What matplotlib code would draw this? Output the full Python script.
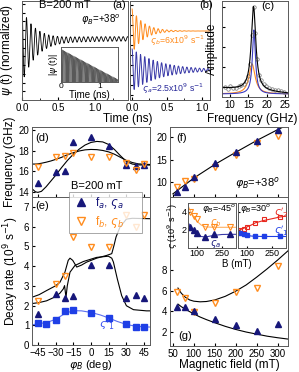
import numpy as np
import matplotlib.pyplot as plt
from matplotlib.lines import Line2D

plt.rcParams['font.family'] = ['Liberation Sans', 'DejaVu Sans']
plt.rcParams['mathtext.fontset'] = 'dejavusans'
plt.rcParams['font.size'] = 7
plt.rcParams['xtick.direction'] = 'in'
plt.rcParams['ytick.direction'] = 'in'
plt.rcParams['xtick.major.size'] = 2.5
plt.rcParams['ytick.major.size'] = 2.5
plt.rcParams['xtick.minor.size'] = 1.5
plt.rcParams['ytick.minor.size'] = 1.5
plt.rcParams['xtick.major.pad'] = 2
plt.rcParams['ytick.major.pad'] = 2
plt.rcParams['axes.linewidth'] = 0.7
plt.rcParams['axes.edgecolor'] = '0.35'

navy = '#17177a'
orange = '#ff8c1e'
blue = '#1f3fe6'
red = '#e8281e'

# ---- (a),(b),(c): oscillation parameters
f_a, f_b = 16.5, 16.0          # GHz
rate_a, rate_b = 2.5, 6.0      # 1e9 1/s
amp_fast, amp_slow, amp_tail = 0.85, 0.15, 0.06

# (c) spectrum sample points (GHz, amplitude)
spec_f = [8.5, 9.3, 10.0, 10.8, 11.5, 12.3, 13.0, 13.7, 14.3, 14.9, 15.4, 15.9,
          16.4, 16.9, 17.4, 17.9, 18.5, 19.2, 19.9, 20.7, 21.5, 22.3, 23.1, 24.0, 24.8]
spec_y = [10, 8, 11, 9, 9, 11, 12, 13, 16, 21, 33, 62,
          90, 64, 38, 22, 17, 13, 11, 9, 8, 7, 7, 6, 5]

# ---- (d),(e): angle dependence at B = 200 mT
phi = [-45, -30, -22, -15, 0, 15, 30, 38, 45]
freq_a = [14.9, 15.9, 16.0, 18.8, 19.3, 18.5, 16.6, 16.5, 16.6]
freq_b = [16.45, 17.4, 17.5, 17.75, 17.4, 17.4, 16.8, 16.1, 16.7]
rate_a_phi = [1.55, 2.59, 2.38, 2.5, 4.03, 4.03, 2.36, 2.53, 2.4]
rate_b_phi = [2.24, 3.1, 3.52, 5.47, 4.96, 4.96, 6.6, 6.0, 6.6]
phi_sq = [-45, -38, -30, -22, -15, 0, 15, 30, 38, 45]
rate_1 = [1.12, 1.06, 1.28, 1.72, 1.76, 1.64, 1.36, 1.04, 0.92, 0.92]

# model curves in (d)
phi_fit = [-50, -47, -45, -42, -38, -34, -30, -25, -20, -15, -10, -5, 0, 5, 10, 15, 20, 25, 30, 35, 40, 45, 50]
fit_fa = [14.3, 14.0, 13.95, 14.05, 14.5, 15.05, 15.6, 16.35, 17.05, 17.65, 18.15, 18.55, 18.8, 18.9, 18.85, 18.6, 18.1, 17.5, 16.95, 16.7, 16.62, 16.6, 16.6]
fit_fb = [16.7, 16.7, 16.72, 16.78, 16.88, 17.0, 17.15, 17.35, 17.6, 17.8, 17.97, 18.08, 18.12, 18.1, 18.02, 17.88, 17.65, 17.35, 17.05, 16.85, 16.72, 16.68, 16.66]

# model curves in (e)
phi_up = [-50, -44, -37.6, -30, -26.3, -22.1, -19.3, -17.8, -15.5, -12.1, -8, -3.7, 4.8, 13.3, 17.6, 19.5, 21.2, 24.6, 30, 35, 50]
fit_up = [2.42, 2.55, 2.76, 3.0, 3.18, 3.69, 4.29, 4.4, 4.29, 3.95, 4.05, 4.2, 4.4, 4.54, 4.63, 5.05, 5.47, 5.98, 6.38, 6.42, 6.4]
phi_lo = [-50, -44, -37.6, -30, -26.3, -23.5, -22.4, -21.2, -20.1, -17.8, -13.6, -6.5, 4.8, 14.7, 17.6, 19, 22.3, 26, 30, 36, 47, 50]
fit_lo = [2.1, 2.15, 2.24, 2.45, 2.63, 2.84, 3.01, 2.41, 3.0, 3.69, 4.03, 4.23, 4.44, 4.5, 4.4, 4.2, 3.35, 2.5, 1.99, 1.79, 1.73, 1.73]
phi_l1 = [-50, -45, -38, -30, -22, -15, -8, 0, 8, 15, 22, 30, 38, 45, 50]
fit_l1 = [1.02, 1.08, 1.13, 1.3, 1.6, 1.74, 1.73, 1.65, 1.52, 1.37, 1.2, 1.04, 0.95, 0.92, 0.91]

# ---- (f),(g): field dependence at phi_B = +38 deg
field = [60, 80, 100, 150, 200, 250, 300]
ff_a = [7.7, 9.0, 11.2, 14.2, 16.6, 19.1, 21.5]
ff_b = [8.9, 10.2, 10.6, 13.4, 15.9, 18.6, 20.2]
fit_f_x = [50, 60, 80, 100, 150, 200, 250, 300, 325]
fit_f_y = [7.4, 8.1, 9.5, 10.9, 13.9, 16.6, 19.2, 21.6, 22.7]
rg_a = [4.45, 4.45, 4.0, 3.25, 2.68, 2.1, 2.74]
rg_b = [5.9, 5.3, 3.9, 4.8, 5.9, 6.3, 8.4]
fit_g_x = [62, 70, 80, 90, 100, 115, 130, 150, 175, 200, 225, 250, 275, 300, 325]
fit_g_up = [6.25, 5.75, 5.35, 5.1, 4.98, 4.92, 4.95, 5.1, 5.45, 5.95, 6.55, 7.3, 8.1, 8.95, 9.85]
fit_g_lo = [4.7, 4.45, 4.2, 3.97, 3.75, 3.45, 3.2, 2.9, 2.55, 2.25, 2.0, 1.8, 1.6, 1.45, 1.32]

# inset of (g)
ins_B = [60, 80, 100, 150, 200, 300]
ins_b45 = [4.0, 3.6, 3.2, 2.3, 2.3, 2.3]
ins_a45 = [2.35, 2.0, 1.7, 1.2, 1.6, 1.55]
ins_fit_x = [50, 60, 80, 100, 125, 150, 200, 250, 300, 335]
ins_fit_b45 = [4.5, 4.1, 3.45, 2.95, 2.55, 2.35, 2.3, 2.3, 2.3, 2.3]
ins_fit_a45 = [2.7, 2.35, 1.85, 1.5, 1.28, 1.22, 1.4, 1.5, 1.52, 1.52]
ins_s2 = [2.05, 2.1, 2.35, 2.8, 3.2, 3.4]
ins_s1 = [1.65, 1.55, 1.5, 1.35, 1.3, 1.3]
ins_fit_s2 = [1.95, 2.05, 2.2, 2.35, 2.55, 2.8, 3.05, 3.25, 3.45, 3.55]
ins_fit_s1 = [1.75, 1.65, 1.5, 1.4, 1.33, 1.3, 1.28, 1.28, 1.28, 1.28]

W, H = 299, 372
fig = plt.figure(figsize=(W / 100, H / 100), dpi=100)


def box(x0, y0, x1, y1):
    return [x0 / W, 1 - y1 / H, (x1 - x0) / W, (y1 - y0) / H]


t = np.linspace(0, 1.5, 4000)

# (a)
ax = fig.add_axes(box(22, 1, 128, 100))
psi = (amp_fast * np.exp(-rate_b * t) * np.cos(2 * np.pi * f_b * t)
       + amp_slow * np.exp(-rate_a * t) * np.cos(2 * np.pi * f_a * t)
       + amp_tail * np.cos(2 * np.pi * f_a * t) - 0.2 * np.exp(-3 * t))
ax.plot(t, psi, color='k', lw=0.6)
ax.set_xlim(0, 1.46)
ax.set_ylim(-1.75, 1.08)
ax.set_yticks(np.arange(-1.5, 1.01, 0.25))
ax.set_yticklabels([])
ax.set_xticks([0, 0.5, 1.0])
ax.set_xticklabels(['0.0', '0.5', '1.0'])
ax.xaxis.set_minor_locator(plt.MultipleLocator(0.25))
ax.set_ylabel(r'$\psi$ (t) (normalized)', fontsize=8.5, labelpad=3)
ax.text(0.16, 0.93, 'B=200 mT', transform=ax.transAxes, fontsize=8)
ax.text(0.56, 0.78, r'$\varphi_B$=+38$^o$', transform=ax.transAxes, fontsize=7)
ax.text(0.85, 0.93, '(a)', transform=ax.transAxes, fontsize=8)

axi = fig.add_axes(box(61, 47, 118, 82))
env = np.abs(np.exp(-rate_a * t) * np.cos(2 * np.pi * f_a * t))
axi.semilogy(t, env + 1e-3, color='0.35', lw=0.4)
axi.set_xlim(0, 1.46)
axi.set_ylim(0.02, 1.3)
axi.set_yticks([])
axi.minorticks_off()
axi.set_xticks([0, 1])
axi.tick_params(labelsize=6, pad=1, length=1.5)
axi.set_xlabel('Time (ns)', fontsize=7, labelpad=0)
axi.set_ylabel(r'|$\psi$ (t)|', fontsize=6.5, labelpad=1)

# (b)
ax = fig.add_axes(box(130, 1, 210, 100))
ax.plot(t, 69 + 22 * np.exp(-rate_b * t) * np.cos(2 * np.pi * f_b * t), color=orange, lw=0.7)
ax.plot(t, 30 + 21 * np.exp(-rate_a * t) * np.cos(2 * np.pi * f_a * t), color='#3a3aa8', lw=0.7)
ax.set_xlim(-0.03, 1.12)
ax.set_ylim(0, 99)
ax.set_yticks(np.arange(5, 99, 10))
ax.set_yticklabels([])
ax.set_xticks([0, 0.5, 1.0])
ax.set_xticklabels(['0.0', '0.5', '1.0'])
ax.xaxis.set_minor_locator(plt.MultipleLocator(0.25))
ax.text(0.87, 0.93, '(b)', transform=ax.transAxes, fontsize=8)
ax.text(0.25, 0.57, r'$\varsigma_b$=6x10$^9$ s$^{-1}$', transform=ax.transAxes, fontsize=6.3, color=orange)
ax.text(0.15, 0.08, r'$\varsigma_a$=2.5x10$^9$ s$^{-1}$', transform=ax.transAxes, fontsize=6.3, color='#2a2a9a')
fig.text(128 / W, 1 - 119 / H, 'Time (ns)', ha='center', va='center', fontsize=8.5)

# (c)
ax = fig.add_axes(box(222, 1, 288, 97))
fr = np.linspace(7.8, 25.8, 800)


def lor(f, amp, f0, g):
    return amp * g ** 2 / ((f - f0) ** 2 + g ** 2)


ax.plot(fr, 3 + lor(fr, 30, f_b, 1.0), color=orange, lw=0.8)
ax.plot(fr, 3 + lor(fr, 64, f_a, 0.5), color='#3a3ac0', lw=0.8)
ax.plot(spec_f, spec_y, 'o', ms=2.5, mfc='none', mec='0.45', mew=0.5)
ax.plot(fr, 9 - 0.3 * (fr - 8) + lor(fr, 84, 16.4, 0.75), color='k', lw=0.8)
ax.set_xlim(7.8, 25.8)
ax.set_ylim(0, 96)
ax.set_yticks(np.arange(10, 95, 20))
ax.set_yticklabels([])
ax.set_xticks([10, 15, 20, 25])
ax.tick_params(labelsize=7)
ax.set_ylabel('Amplitude', fontsize=8.5, labelpad=1)
ax.text(0.6, 0.92, '(c)', transform=ax.transAxes, fontsize=8)
fig.text(252 / W, 1 - 119 / H, 'Frequency (GHz)', ha='center', va='center', fontsize=8.5)

# (d)
ax = fig.add_axes(box(32, 127, 150, 197))
ax.plot(phi_fit, fit_fa, color='k', lw=0.8)
ax.plot(phi_fit, fit_fb, color='k', lw=0.8)
ax.plot(phi, freq_a, '^', color=navy, ms=5)
ax.plot(phi, freq_b, 'v', mfc='none', mec=orange, mew=1.0, ms=5)
ax.set_xlim(-50, 50)
ax.set_ylim(13.5, 20.3)
ax.set_yticks([14, 16, 18, 20])
ax.set_xticks(range(-45, 46, 15))
ax.set_xticklabels([])
ax.tick_params(labelsize=7)
ax.set_ylabel('Frequency (GHz)', fontsize=8.5, labelpad=2)
ax.text(0.03, 0.8, '(d)', transform=ax.transAxes, fontsize=8)
ax.text(0.33, 0.12, 'B=200 mT', transform=ax.transAxes, fontsize=8)

# (e)
ax = fig.add_axes(box(32, 197, 150, 345))
ax.plot(phi_up, fit_up, color='k', lw=0.8)
ax.plot(phi_lo, fit_lo, color='k', lw=0.8)
ax.plot(phi_l1, fit_l1, color='#5a6ef0', lw=0.8)
ax.plot(phi, rate_a_phi, '^', color=navy, ms=5)
ax.plot(phi, rate_b_phi, 'v', mfc='none', mec=orange, mew=1.0, ms=5)
ax.plot(phi_sq, rate_1, 's', color=blue, ms=4)
ax.set_xlim(-50, 50)
ax.set_ylim(0, 7.5)
ax.set_yticks(range(0, 8))
ax.set_xticks(range(-45, 46, 15))
ax.tick_params(labelsize=7)
ax.set_xlabel(r'$\varphi_B$ (deg)', fontsize=8, labelpad=0)
ax.set_ylabel('Decay rate (10$^9$ s$^{-1}$)', fontsize=8.5, labelpad=2)
ax.text(0.03, 0.92, '(e)', transform=ax.transAxes, fontsize=8)
ax.text(0.57, 0.12, r"$\varsigma'_1$", transform=ax.transAxes, fontsize=8, color='#3a50f0')

handles = [Line2D([], [], ls='none', marker='^', color=navy, ms=6),
           Line2D([], [], ls='none', marker='v', mfc='none', mec=orange, mew=1.0, ms=6)]
leg = fig.legend(handles, [r'f$_a$, $\varsigma_a$', r'f$_b$, $\varsigma_b$'],
                 loc='upper left', bbox_to_anchor=(63 / W, 1 - 222 / H, 85 / W, 36 / H),
                 mode='expand', fontsize=8.5,
                 frameon=True, fancybox=False, edgecolor='0.5', handletextpad=0.4,
                 borderpad=0.3, labelspacing=0.2, handlelength=1.5)
leg.get_frame().set_linewidth(0.6)
for txt, c in zip(leg.get_texts(), [navy, orange]):
    txt.set_color(c)

# (f)
ax = fig.add_axes(box(170, 127, 288, 197))
ax.plot(fit_f_x, fit_f_y, color='k', lw=0.8)
ax.plot(field, ff_b, 'v', mfc='none', mec=orange, mew=1.0, ms=5)
ax.plot(field, ff_a, '^', color=navy, ms=5)
ax.set_xlim(43, 325)
ax.set_ylim(6.7, 22.2)
ax.set_yticks([10, 15, 20])
ax.set_xticks(range(50, 301, 50))
ax.set_xticklabels([])
ax.tick_params(labelsize=7)
ax.text(0.05, 0.8, '(f)', transform=ax.transAxes, fontsize=8)
ax.text(0.55, 0.15, r'$\varphi_B$=+38$^o$', transform=ax.transAxes, fontsize=8)

# (g)
ax = fig.add_axes(box(170, 197, 288, 346))
ax.plot(fit_g_x, fit_g_up, color='k', lw=0.8)
ax.plot(fit_g_x, fit_g_lo, color='k', lw=0.8)
ax.plot(field, rg_b, 'v', mfc='none', mec=orange, mew=1.0, ms=5)
ax.plot(field, rg_a, '^', color=navy, ms=5)
ax.set_xlim(43, 325)
ax.set_ylim(0.65, 15.05)
ax.set_yticks([2, 4, 6, 8])
ax.set_xticks(range(50, 301, 50))
ax.tick_params(labelsize=7)
ax.set_xlabel('Magnetic field (mT)', fontsize=8.5, labelpad=0)
ax.text(0.07, 0.05, '(g)', transform=ax.transAxes, fontsize=8)

# inset of (g), left: phi_B = -45
ax = fig.add_axes(box(188, 203, 236, 248))
ax.plot(ins_fit_x, ins_fit_b45, color='#ffb060', lw=0.8)
ax.plot(ins_fit_x, ins_fit_a45, color='#3a3aa8', lw=0.8)
ax.plot(ins_B, ins_b45, 'v', mfc='none', mec=orange, mew=0.8, ms=4)
ax.plot(ins_B, ins_a45, '^', color=navy, ms=4)
ax.set_xlim(45, 335)
ax.set_ylim(0, 5)
ax.set_yticks([2, 4])
ax.set_xticks([100, 250])
ax.tick_params(labelsize=6.5, pad=1, length=1.5)
ax.set_ylabel(r'$\varsigma$ (10$^9$ s$^{-1}$)', fontsize=6.5, labelpad=1)
ax.text(0.3, 0.83, r'$\varphi_B$=-45$^o$', transform=ax.transAxes, fontsize=6.5)
ax.text(0.45, 0.5, r'$\varsigma_b$', transform=ax.transAxes, fontsize=7, color=orange)
ax.text(0.45, 0.05, r'$\varsigma_a$', transform=ax.transAxes, fontsize=7, color=navy)

# inset of (g), right: phi_B = 30
ax = fig.add_axes(box(238, 203, 286, 248))
ax.plot(ins_fit_x, ins_fit_s2, color=red, lw=0.8)
ax.plot(ins_fit_x, ins_fit_s1, color=blue, lw=0.8)
ax.plot(ins_B, ins_s2, 's', mfc='none', mec=red, mew=0.8, ms=3.5)
ax.plot(ins_B, ins_s1, 's', color=blue, ms=3.5)
ax.set_xlim(45, 335)
ax.set_ylim(0, 5)
ax.set_yticks([2, 4])
ax.set_yticklabels([])
ax.set_xticks([100, 250])
ax.tick_params(labelsize=6.5, pad=1, length=1.5)
ax.text(0.05, 0.83, r'$\varphi_B$=30$^o$', transform=ax.transAxes, fontsize=6.5)
ax.text(0.75, 0.72, r"$\varsigma'_2$", transform=ax.transAxes, fontsize=7.5, color=red)
ax.text(0.75, 0.3, r"$\varsigma'_1$", transform=ax.transAxes, fontsize=7.5, color=blue)
fig.text(237 / W, 1 - 264 / H, 'B (mT)', ha='center', va='center', fontsize=7)

fig.savefig('out.png', dpi=100)
